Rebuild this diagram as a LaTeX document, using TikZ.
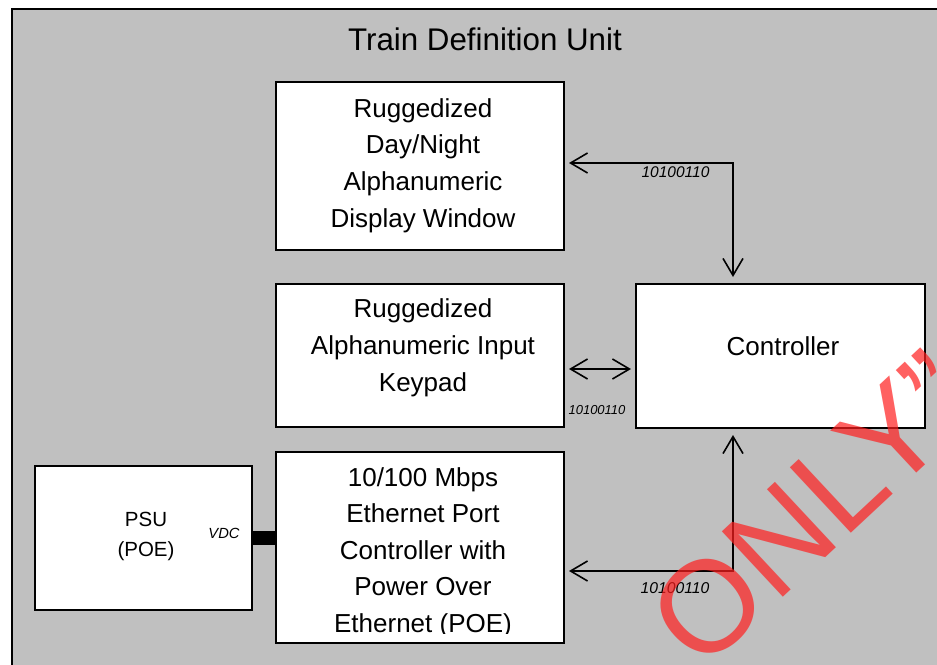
\documentclass[tikz,border=0pt]{standalone}
\usepackage{fontspec}
\setmainfont{Liberation Sans}
\usetikzlibrary{arrows.meta}
\definecolor{bggray}{RGB}{192,192,192}
\definecolor{wmred}{RGB}{255,30,30}
\begin{document}
\begin{tikzpicture}[x=1pt,y=-1pt,
  box/.style={draw=black,line width=2pt,fill=white,inner sep=0pt,anchor=north west},
  bigtext/.style={font=\fontsize{26}{36.6}\selectfont,align=center,inner sep=0pt,anchor=base},
  smalltext/.style={font=\fontsize{20.5}{30}\selectfont,align=center,inner sep=0pt,anchor=base},
  bits/.style={font=\fontsize{15.5}{18}\selectfont\itshape,inner sep=0pt,anchor=base},
  barb/.tip={Straight Barb[length=17pt,width=20pt,line width=1.6pt]},
  link/.style={line width=1.6pt,shorten >=4pt,shorten <=4pt}]
\useasboundingbox (0,0) rectangle (937,664);
\clip (0,0) rectangle (937,664);
\draw[line width=2pt,fill=bggray] (12,9) rectangle (960,690);
\node[font=\fontsize{31.3}{36}\selectfont,anchor=base,inner sep=0pt] (title) at (485,50) {Train Definition Unit};
% boxes
\node[box,minimum width=288pt,minimum height=168pt] (disp) at (275,81) {};
\node[box,minimum width=288pt,minimum height=143pt] (keypad) at (275,283) {};
\node[box,minimum width=288pt,minimum height=191pt] (eth) at (275,451) {};
\node[box,minimum width=289pt,minimum height=144pt] (ctrl) at (635,283) {};
\node[box,minimum width=217pt,minimum height=144pt] (psu) at (34,465) {};
% texts (anchor base = baseline of the last line)
\node[bigtext] (disptext) at (423,227) {Ruggedized\\Day/Night\\Alphanumeric\\Display Window};
\node[bigtext] (keytext) at (423,391) {Ruggedized\\Alphanumeric Input\\Keypad};
\node[bigtext] (ctrltext) at (783,355) {Controller};
\begin{scope}
\clip (275,451) rectangle (563,633);
\node[bigtext] (ethtext) at (423,632.5) {10/100 Mbps\\Ethernet Port\\Controller with\\Power Over\\Ethernet (POE)};
\end{scope}
\node[smalltext] (psutext) at (146,556) {PSU\\(POE)};
\node[bits,font=\fontsize{14.7}{18}\selectfont\itshape] (vdc) at (224,538) {VDC};
% power bar
\coordinate (vdcy) at (0,538);
\draw[line width=14pt] (psu.east |- vdcy) -- (eth.west |- vdcy);
% connectors
\coordinate (c1) at (733,163);
\coordinate (c2) at (0,369);
\coordinate (c3) at (733,571);
\draw[link,barb-barb,shorten >=6pt] (disp.east |- c1) -- (c1) -- (ctrl.north -| c1);
\draw[link,barb-barb,shorten >=4pt] (keypad.east |- c2) -- (ctrl.west |- c2);
\draw[link,barb-barb,shorten >=6pt] (eth.east |- c3) -- (c3) -- (ctrl.south -| c3);
\node[bits] (b1) at (675.5,177) {10100110};
\node[bits,font=\fontsize{13}{16}\selectfont\itshape] (b2) at (597,414) {10100110};
\node[bits,font=\fontsize{15.7}{18}\selectfont\itshape] (b3) at (675,593) {10100110};
% watermark
\node[text=wmred,opacity=0.7,font=\fontsize{130}{130}\selectfont,rotate=43,anchor=base west,inner sep=0pt] (wm) at (701,674) {ONLY”};
\end{tikzpicture}
\end{document}
